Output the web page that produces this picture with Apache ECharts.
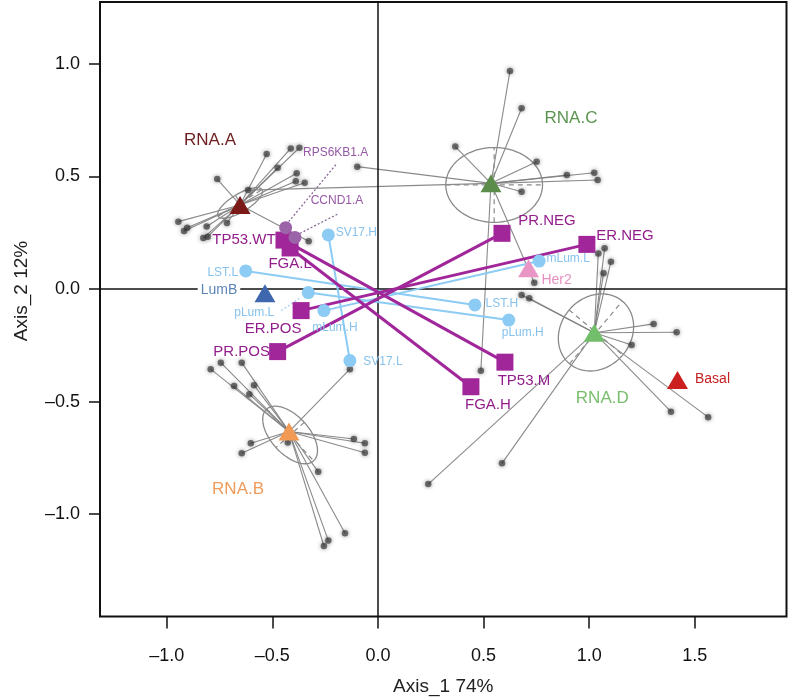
<!DOCTYPE html>
<html><head><meta charset="utf-8">
<script src="https://cdn.jsdelivr.net/npm/echarts@6/dist/echarts.min.js"></script>
<style>html,body{margin:0;padding:0;background:#fff}#c{width:788px;height:700px}</style>
</head><body><div id="c"></div>
<script>
// ---------------- DATA ----------------
const xTicks = [-1.0, -0.5, 0.0, 0.5, 1.0, 1.5];
const yTicks = [-1.0, -0.5, 0.0, 0.5, 1.0];

const rnaGroups = ['RNA.A', 'RNA.B', 'RNA.C', 'RNA.D'];
const rnaCentroids = [[-0.653, 0.373], [-0.421, -0.633], [0.535, 0.469], [1.024, -0.194]];

const rnaA_samples = [[-0.413,0.624],[-0.372,0.627],[-0.527,0.599],[-0.475,0.538],[-0.761,0.488],[-0.385,0.514],[-0.389,0.478],[-0.347,0.472],[-0.945,0.299],[-0.903,0.272],[-0.918,0.257],[-0.811,0.277],[-0.806,0.232],[-0.715,0.293],[-0.827,0.226],[-0.328,0.212]];
const rnaB_samples = [[-0.792,-0.356],[-0.744,-0.327],[-0.645,-0.327],[-0.681,-0.431],[-0.587,-0.427],[-0.609,-0.467],[-0.133,-0.356],[-0.602,-0.685],[-0.645,-0.729],[-0.427,-0.682],[-0.114,-0.666],[-0.062,-0.685],[-0.062,-0.727],[-0.283,-0.811],[-0.156,-1.084],[-0.235,-1.117],[-0.256,-1.141]];
const rnaC_samples = [[0.625,0.968],[0.680,0.802],[0.366,0.632],[0.751,0.565],[0.894,0.506],[1.024,0.516],[1.040,0.484],[0.680,0.432],[-0.098,0.543],[-0.615,0.439],[0.487,-0.363],[0.740,0.028]];
const rnaD_samples = [[1.043,0.158],[1.073,0.181],[1.103,0.121],[1.068,0.070],[0.680,-0.027],[0.716,-0.041],[1.305,-0.155],[1.414,-0.192],[1.201,-0.249],[1.387,-0.545],[1.563,-0.569],[0.587,-0.774],[0.238,-0.866]];

// confidence ellipses: centre and the two half-axis vectors (data units)
const ellipseCenters = [[-0.653, 0.382], [-0.416, -0.648], [0.550, 0.462], [1.032, -0.193]];
const ellipseAxisA = [[0.104, 0.059], [0.111, -0.115], [0.229, 0.0], [0.125, 0.139]];
const ellipseAxisB = [[0.022, -0.034], [-0.067, -0.056], [0.0, 0.166], [0.127, -0.100]];

const subtypes = ['LumB', 'Her2', 'Basal'];
const subtypeCoords = [[-0.535, -0.019], [0.713, 0.092], [1.418, -0.404]];

const clinLow = ['TP53.WT', 'FGA.L', 'ER.POS', 'PR.POS'];
const clinLowCoords = [[-0.445, 0.217], [-0.416, 0.182], [-0.364, -0.096], [-0.475, -0.278]];
const clinHigh = ['TP53.M', 'FGA.H', 'ER.NEG', 'PR.NEG'];
const clinHighCoords = [[0.601, -0.325], [0.440, -0.434], [0.989, 0.198], [0.587, 0.247]];

const sigLow = ['LST.L', 'pLum.L', 'mLum.H', 'SV17.H'];
const sigLowCoords = [[-0.626, 0.080], [-0.330, -0.016], [-0.256, -0.096], [-0.235, 0.240]];
const sigHigh = ['LST.H', 'pLum.H', 'mLum.L', 'SV17.L'];
const sigHighCoords = [[0.459, -0.071], [0.619, -0.138], [0.763, 0.124], [-0.133, -0.318]];

const cnaNames = ['RPS6KB1.A', 'CCND1.A'];
const cnaCoords = [[-0.437, 0.272], [-0.393, 0.229]];

// ---------------- STYLE ----------------
const FONT = '"Liberation Sans", Arial, Helvetica, sans-serif';
const labelOffsets = {
  'RNA.A': [-30, -65], 'RNA.B': [-51, 58], 'RNA.C': [80, -65], 'RNA.D': [8, 66],
  'LumB': [-46, -3], 'Her2': [28, 12], 'Basal': [35, -1],
  'TP53.WT': [-40, 0], 'FGA.L': [0, 16], 'ER.POS': [-28, 18], 'PR.POS': [-36, 0],
  'TP53.M': [19, 19], 'FGA.H': [17, 18], 'ER.NEG': [38, -9], 'PR.NEG': [45, -12],
  'LST.L': [-23, 2], 'pLum.L': [-54, 20], 'mLum.H': [11, 17], 'SV17.H': [28, -2],
  'LST.H': [27, -1], 'pLum.H': [14, 13], 'mLum.L': [29, -2], 'SV17.L': [33, 1],
  'RPS6KB1.A': [50, -75], 'CCND1.A': [42, -37]
};
const rnaColors = ['#7B1818', '#F09A55', '#5C8C4C', '#72BE6A'];
const rnaLabelColors = ['#6E1E1E', '#EE9B5B', '#5B944F', '#78BE6C'];
const subColors = ['#3F67AD', '#E996C6', '#CC2020'];
const subLabelColors = ['#5B85B5', '#E690C0', '#C42222'];
const PURPLE = '#A0269A', PURPLE_LBL = '#921E8C';
const LBLUE = '#8CCBF3', LBLUE_LBL = '#86C2EC';
const CNA = '#9B63A8', CNA_LBL = '#9659A6';

// leader lines (pixel offsets from the point)
const leaders = [
  {pt: cnaCoords[0], from: [3, -6], to: [51, -64], color: '#8a6a98'},
  {pt: cnaCoords[1], from: [5, -4], to: [44, -24], color: '#8a6a98'},
  {pt: sigLowCoords[1], from: [-27, 18], to: [-9, 6], color: '#9fd0f2'}
];

function lbl(name, color, size, extra) {
  return Object.assign({
    show: true, position: 'inside', offset: labelOffsets[name] || [0, 0],
    formatter: name, color: color, fontSize: size, fontFamily: FONT,
    align: 'center', verticalAlign: 'middle'
  }, extra || {});
}
function fmt(v) { return v.toFixed(1).replace('-', '\u2013'); }

const rnaSamples = [rnaA_samples, rnaB_samples, rnaC_samples, rnaD_samples];
const spokeData = [];
const dotData = [];
rnaSamples.forEach((arr, g) => arr.forEach(p => {
  spokeData.push({coords: [rnaCentroids[g], p]});
  dotData.push(p);
}));

const chart = echarts.init(document.getElementById('c'));
chart.setOption({
  animation: false,
  backgroundColor: '#fff',
  grid: {left: 100, right: 1.5, top: 2, bottom: 83.5, containLabel: false, outerBoundsMode: 'none',
    show: true, borderColor: '#111', borderWidth: 2, backgroundColor: 'transparent'},
  xAxis: {
    type: 'value', min: -1.316, max: 1.934,
    axisLine: {show: false, onZero: false}, splitLine: {show: false},
    axisTick: {show: true, length: 12, lineStyle: {color: '#111', width: 1.5}, customValues: xTicks},
    axisLabel: {customValues: xTicks, formatter: fmt, color: '#111', fontSize: 18, fontFamily: FONT, margin: 31},
    name: 'Axis_1 74%', nameLocation: 'middle', nameGap: 61,
    nameTextStyle: {color: '#222', fontSize: 19, fontFamily: FONT}
  },
  yAxis: {
    type: 'value', min: -1.454, max: 1.274,
    axisLine: {show: false, onZero: false}, splitLine: {show: false},
    axisTick: {show: true, length: 11, lineStyle: {color: '#111', width: 1.5}, customValues: yTicks},
    axisLabel: {customValues: yTicks, formatter: fmt, color: '#111', fontSize: 18, fontFamily: FONT, margin: 20}
  },
  graphic: [{
    type: 'text', x: 22, y: 291, rotation: Math.PI / 2,
    style: {text: 'Axis_2 12%', fontSize: 19, fontFamily: FONT, fill: '#222',
      align: 'center', verticalAlign: 'middle', textAlign: 'center', textVerticalAlign: 'middle'}
  }],
  series: [
    { // zero lines
      type: 'scatter', data: [], silent: true, z: 1,
      markLine: {silent: true, symbol: 'none', label: {show: false}, animation: false,
        lineStyle: {color: '#111', width: 1.5, type: 'solid'},
        data: [{xAxis: 0}, {yAxis: 0}]}
    },
    { // spokes
      type: 'lines', coordinateSystem: 'cartesian2d', data: spokeData, silent: true, z: 2,
      lineStyle: {color: '#7d7d7d', width: 1.1, opacity: 0.9}
    },
    { // ellipses
      type: 'custom', data: ellipseCenters, silent: true, z: 3,
      encode: {x: 0, y: 1},
      renderItem: function (params, api) {
        const i = params.dataIndex;
        const c = ellipseCenters[i], a = ellipseAxisA[i], b = ellipseAxisB[i];
        const pts = [];
        for (let k = 0; k <= 90; k++) {
          const t = k / 90 * 2 * Math.PI;
          pts.push(api.coord([c[0] + Math.cos(t) * a[0] + Math.sin(t) * b[0], c[1] + Math.cos(t) * a[1] + Math.sin(t) * b[1]]));
        }
        const a1 = api.coord([c[0] - a[0], c[1] - a[1]]), a2 = api.coord([c[0] + a[0], c[1] + a[1]]);
        const b1 = api.coord([c[0] - b[0], c[1] - b[1]]), b2 = api.coord([c[0] + b[0], c[1] + b[1]]);
        return {type: 'group', children: [
          {type: 'polyline', shape: {points: pts}, style: {stroke: '#8a8a8a', fill: null, lineWidth: 1.3}},
          {type: 'line', shape: {x1: a1[0], y1: a1[1], x2: a2[0], y2: a2[1]}, style: {stroke: '#8a8a8a', lineWidth: 1.2, lineDash: [5, 4]}},
          {type: 'line', shape: {x1: b1[0], y1: b1[1], x2: b2[0], y2: b2[1]}, style: {stroke: '#8a8a8a', lineWidth: 1.2, lineDash: [5, 4]}}
        ]};
      }
    },
    { // sample dots
      type: 'scatter', data: dotData, symbolSize: 6.5, silent: true, z: 4,
      itemStyle: {color: 'rgba(55,55,55,0.85)', shadowBlur: 4, shadowColor: 'rgba(0,0,0,0.6)'}
    },
    { // leader lines
      type: 'custom', data: leaders.map(l => l.pt), silent: true, z: 5, encode: {x: 0, y: 1},
      renderItem: function (params, api) {
        const l = leaders[params.dataIndex];
        const p = api.coord(l.pt);
        return {type: 'line', shape: {x1: p[0] + l.from[0], y1: p[1] + l.from[1], x2: p[0] + l.to[0], y2: p[1] + l.to[1]},
          style: {stroke: l.color, lineWidth: 1.3, lineDash: [2, 2]}};
      }
    },
    { // signature connection lines
      type: 'lines', coordinateSystem: 'cartesian2d', silent: true, z: 6,
      data: sigLowCoords.map((p, i) => ({coords: [p, sigHighCoords[i]]})),
      lineStyle: {color: LBLUE, width: 2, opacity: 1}
    },
    { // clinical connection lines
      type: 'lines', coordinateSystem: 'cartesian2d', silent: true, z: 7,
      data: clinLowCoords.map((p, i) => ({coords: [p, clinHighCoords[i]]})),
      lineStyle: {color: PURPLE, width: 3, opacity: 1}
    },
    { // signature circles
      type: 'scatter', symbol: 'circle', symbolSize: 13, silent: true, z: 8,
      itemStyle: {color: LBLUE, opacity: 1},
      data: sigLow.map((n, i) => ({name: n, value: sigLowCoords[i], label: lbl(n, LBLUE_LBL, 12)}))
        .concat(sigHigh.map((n, i) => ({name: n, value: sigHighCoords[i], label: lbl(n, LBLUE_LBL, 12)})))
    },
    { // clinical squares
      type: 'scatter', symbol: 'rect', symbolSize: 17, silent: true, z: 9,
      itemStyle: {color: PURPLE, opacity: 1},
      data: clinLow.map((n, i) => ({name: n, value: clinLowCoords[i], label: lbl(n, PURPLE_LBL, 15)}))
        .concat(clinHigh.map((n, i) => ({name: n, value: clinHighCoords[i], label: lbl(n, PURPLE_LBL, 15)})))
    },
    { // CNA circles
      type: 'scatter', symbol: 'circle', symbolSize: 13, silent: true, z: 10,
      itemStyle: {color: CNA, opacity: 1},
      data: cnaNames.map((n, i) => ({name: n, value: cnaCoords[i], label: lbl(n, CNA_LBL, 12)}))
    },
    { // subtype triangles
      type: 'scatter', symbol: 'triangle', symbolSize: [21, 18], silent: true, z: 11,
      data: subtypes.map((n, i) => ({name: n, value: subtypeCoords[i], itemStyle: {color: subColors[i], opacity: 1},
        label: lbl(n, subLabelColors[i], 14, n === 'LumB' ? {backgroundColor: '#fff', padding: [1, 3]} : {})}))
    },
    { // RNA centroids
      type: 'scatter', symbol: 'triangle', symbolSize: [21, 18], silent: true, z: 12,
      data: rnaGroups.map((n, i) => ({name: n, value: rnaCentroids[i], itemStyle: {color: rnaColors[i], opacity: 1},
        label: lbl(n, rnaLabelColors[i], 17)}))
    }
  ]
});
</script>
</body></html>
